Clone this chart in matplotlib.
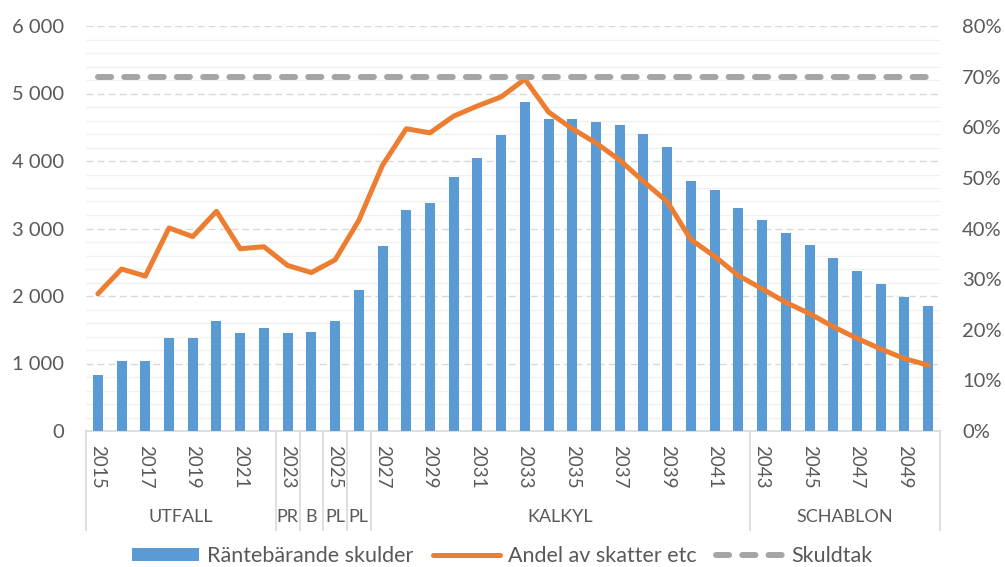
import matplotlib
matplotlib.use("Agg")
import matplotlib.pyplot as plt
import matplotlib.transforms as mtransforms
from matplotlib.patches import Patch
from matplotlib.lines import Line2D
import numpy as np

plt.rcParams['font.family'] = ['Lato', 'DejaVu Sans']

years = list(range(2015, 2051))
skulder = [830, 1040, 1040, 1385, 1385, 1630, 1445, 1530, 1445, 1465, 1630, 2085,
           2735, 3270, 3385, 3765, 4045, 4385, 4880, 4615, 4615, 4580, 4540, 4405,
           4210, 3700, 3565, 3300, 3130, 2940, 2750, 2560, 2370, 2180, 1990, 1855]
andel = [27.1, 32.0, 30.6, 40.1, 38.4, 43.4, 36.0, 36.4, 32.7, 31.3, 33.8, 41.6,
         52.5, 59.7, 58.9, 62.2, 64.2, 66.0, 69.5, 63.0, 59.7, 56.9, 53.5, 49.3,
         45.3, 37.8, 34.5, 30.7, 28.1, 25.4, 23.2, 20.6, 18.3, 16.2, 14.3, 13.0]
skuldtak = [70.0] * len(years)
groups = [("UTFALL", 2015, 2022), ("PR", 2023, 2023), ("B", 2024, 2024),
          ("PL", 2025, 2025), ("PL", 2026, 2026), ("KALKYL", 2027, 2042),
          ("SCHABLON", 2043, 2050)]
left_ticks = [0, 1000, 2000, 3000, 4000, 5000, 6000]
left_labels = ["0", "1 000", "2 000", "3 000", "4 000", "5 000", "6 000"]
right_ticks = [0, 10, 20, 30, 40, 50, 60, 70, 80]
right_labels = [f"{t}%" for t in right_ticks]

BLUE = "#5B9BD5"
ORANGE = "#ED7D31"
GRAY = "#A5A5A5"
TXT = "#595959"

W, H = 1005, 567
fig = plt.figure(figsize=(W / 100, H / 100), dpi=100)
x0, x1, ybot, ytop = 86, 940, 431, 26
ax = fig.add_axes([x0 / W, 1 - ybot / H, (x1 - x0) / W, (ybot - ytop) / H])
ax2 = ax.twinx()

idx = np.arange(len(years))
ax.set_xlim(-0.5, len(years) - 0.5)
ax.set_ylim(0, 6000)
ax2.set_ylim(0, 80)

# gridlines
for v in np.arange(200, 6001, 200):
    if v % 1000 == 0:
        ax.axhline(v, color="#D9D9D9", lw=1.0, ls=(0, (5, 3)), zorder=0)
    else:
        ax.axhline(v, color="#F0F0F0", lw=1.0, zorder=0)

ax.bar(idx, skulder, width=0.42, color=BLUE, zorder=2)
ax2.plot(idx, andel, color=ORANGE, lw=3.6, solid_joinstyle="round",
         solid_capstyle="round", zorder=3)
ax2.plot(idx, skuldtak, color=GRAY, lw=4.3, ls=(0, (2.2, 2.2)),
         dash_capstyle="round", zorder=3)

for a in (ax, ax2):
    for s in a.spines.values():
        s.set_visible(False)
ax.axhline(0, color="#D9D9D9", lw=1.2, zorder=1, clip_on=False)

ax.set_yticks(left_ticks)
ax.set_yticklabels(left_labels)
ax.tick_params(axis="y", length=0, pad=16, labelsize=14.5, labelcolor=TXT)
ax2.set_yticks(right_ticks)
ax2.set_yticklabels(right_labels)
ax2.tick_params(axis="y", length=0, pad=16, labelsize=14.5, labelcolor=TXT)
ax.set_xticks([])

trans = mtransforms.blended_transform_factory(ax.transData, ax.transAxes)
axh = ybot - ytop
def ay(py):
    return (ybot - py) / axh

for i, yr in enumerate(years):
    if i % 2 == 0:
        ax.text(i, ay(445), str(yr), rotation=-90, ha="center", va="top",
                fontsize=13.5, color=TXT, transform=trans)

bounds = [-0.5]
for name, a, b in groups:
    i0 = years.index(a)
    i1 = years.index(b)
    bounds.append(i1 + 0.5)
    ax.text((i0 + i1) / 2, ay(517), name, ha="center", va="center",
            fontsize=13, color=TXT, transform=trans)
for bx in bounds:
    ax.plot([bx, bx], [0, ay(530)], color="#D9D9D9", lw=1.2,
            transform=trans, clip_on=False)

handles = [Patch(facecolor=BLUE, edgecolor="none"),
           Line2D([], [], color=ORANGE, lw=3.6, solid_capstyle="round"),
           Line2D([], [], color=GRAY, lw=4.3, ls=(0, (2.2, 2.2)),
                  dash_capstyle="round")]
labels = ["Räntebärande skulder", "Andel av skatter etc", "Skuldtak"]
leg = fig.legend(handles, labels, loc="center", bbox_to_anchor=(0.5, 1 - 556 / H),
                 ncol=3, frameon=False, fontsize=15.5, handlelength=3.1,
                 handleheight=0.6, handletextpad=0.4, columnspacing=0.9)
for t in leg.get_texts():
    t.set_color(TXT)

fig.savefig("out.png", dpi=100)
